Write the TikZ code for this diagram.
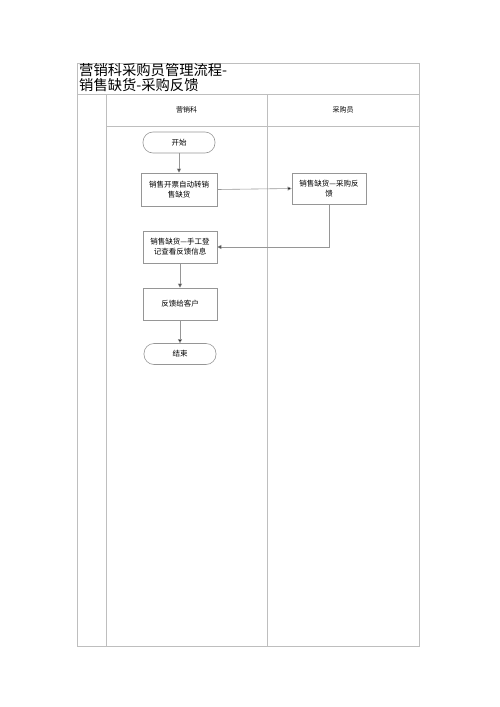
\documentclass[tikz,border=0pt]{standalone}
\usepackage{fontspec}
\newfontfamily\cjk{Noto Sans CJK SC}
\usetikzlibrary{arrows.meta}
\definecolor{frame}{RGB}{190,190,190}
\definecolor{boxline}{RGB}{150,150,150}
\begin{document}
\begin{tikzpicture}[x=1pt,y=-1pt,
  lane/.style={draw=frame,line width=0.8pt},
  procbox/.style={draw=boxline,line width=0.6pt,fill=white,minimum width=75pt,minimum height=32pt,align=center,font=\cjk\fontsize{7.5}{10}\selectfont,inner sep=1pt},
  termbox/.style={draw=boxline,line width=0.6pt,rounded corners=10pt,minimum width=72pt,minimum height=21pt,font=\cjk\fontsize{7.5}{9}\selectfont},
  conn/.style={draw=boxline,line width=0.6pt,-{Triangle[length=4pt,width=4pt,fill=black]}}
]
\useasboundingbox (0,0) rectangle (500,707);
% frame
\draw[lane] (77,63) rectangle (419,646);
\draw[lane] (77,94) -- (419,94);
\draw[lane] (106,94) -- (106,646);
\draw[lane] (267,94) -- (267,646);
\draw[lane] (106,126) -- (419,126);
\node[anchor=north west,align=left,font=\cjk\fontsize{14.3}{14.5}\selectfont,inner sep=0pt] (title) at (79,63.5) {营销科采购员管理流程-\\销售缺货-采购反馈};
\node[font=\cjk\fontsize{7}{8}\selectfont] (h1) at (186.5,110) {营销科};
\node[font=\cjk\fontsize{7}{8}\selectfont] (h2) at (343,110) {采购员};
% nodes
\node[termbox] (start) at (179,142.5) {开始};
\node[procbox,minimum width=76pt,minimum height=33pt] (b1) at (179,189.5) {销售开票自动转销\\售缺货};
\node[procbox,minimum width=74pt,minimum height=31pt] (b4) at (329,188.5) {销售缺货—采购反\\馈};
\node[procbox,minimum width=74pt,minimum height=32pt] (b2) at (180,247) {销售缺货—手工登\\记查看反馈信息};
\node[procbox,minimum width=74pt,minimum height=32pt] (b3) at (180,304) {反馈给客户};
\node[termbox] (end) at (180,354) {结束};
% connectors
\draw[conn] (start) -- (start|-b1.north);
\draw[conn] (b1.east) -- (b4.west);
\draw[conn] (b4.south) |- (b2.east);
\draw[conn] (b2) -- (b3);
\draw[conn] (b3) -- (end);
\end{tikzpicture}
\end{document}
